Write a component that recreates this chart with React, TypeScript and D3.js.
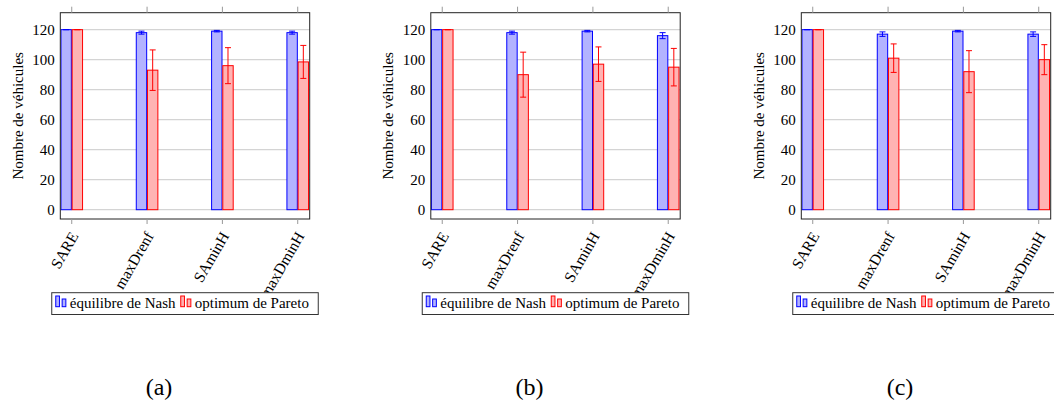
import React from "react";
import * as d3 from "d3";

const categories = ["SARE", "maxDrenf", "SAminH", "maxDminH"];
const yTicks = [0, 20, 40, 60, 80, 100, 120];

const nashA = [120, 118, 119, 118];
const nashErrA = [0, 1, 0.5, 1];
const paretoA = [120, 93, 96, 98.5];
const paretoErrA = [0, 13.5, 12, 11];

const nashB = [120, 118, 119, 116];
const nashErrB = [0, 1, 0.5, 2];
const paretoB = [120, 90, 97, 95];
const paretoErrB = [0, 15, 11.5, 12.5];

const nashC = [120, 117, 119, 117];
const nashErrC = [0, 1.5, 0.5, 1.5];
const paretoC = [120, 101, 92, 100];
const paretoErrC = [0, 9.5, 14, 10];

const captions = ["(a)", "(b)", "(c)"];
const legendLabels = ["équilibre de Nash", "optimum de Pareto"];

const panels = [
  { nash: nashA, nashErr: nashErrA, pareto: paretoA, paretoErr: paretoErrA },
  { nash: nashB, nashErr: nashErrB, pareto: paretoB, paretoErr: paretoErrB },
  { nash: nashC, nashErr: nashErrC, pareto: paretoC, paretoErr: paretoErrC },
];

const FONT = "'Liberation Serif', 'Times New Roman', Times, serif";
const BLUE = "#0000ff";
const BLUE_FILL = "#b3b3ff";
const RED = "#ff0000";
const RED_FILL = "#ffb3b3";

const PANEL_STEP = 370.5;
const FRAME_LEFT = 60.3;
const FRAME_W = 249.4;
const TOP = 12.7;
const BOTTOM = 219;
const BAR_W = 10.4;

function Panel({ idx }: { idx: number }) {
  const p = panels[idx];
  const left = FRAME_LEFT + idx * PANEL_STEP;
  const right = left + FRAME_W;
  const x = d3.scaleLinear().domain([-0.152, 3.159]).range([left, right]);
  const y = d3.scaleLinear().domain([-6.2, 131.3]).range([BOTTOM, TOP]);
  const clipId = `clip${idx}`;
  const series = [
    { vals: p.nash, errs: p.nashErr, stroke: BLUE, fill: BLUE_FILL, off: -0.4 - BAR_W },
    { vals: p.pareto, errs: p.paretoErr, stroke: RED, fill: RED_FILL, off: 0.4 },
  ];
  const cx = (left + right) / 2;
  const legW = 266.5;
  const legX = cx - legW / 2;
  const legY = 292.7;
  const legH = 21.8;
  return (
    <g>
      <defs>
        <clipPath id={clipId}>
          <rect x={left} y={TOP} width={FRAME_W} height={BOTTOM - TOP} />
        </clipPath>
      </defs>
      {yTicks.map((t) => (
        <line key={t} x1={left} x2={right} y1={y(t)} y2={y(t)} stroke="#d4d4d4" strokeWidth={1.2} />
      ))}
      <g clipPath={`url(#${clipId})`}>
        {series.map((s, si) =>
          s.vals.map((v, i) => {
            const bx = x(i) + s.off;
            const c = bx + BAR_W / 2;
            return (
              <g key={`${si}-${i}`}>
                <rect x={bx} y={y(v)} width={BAR_W} height={y(0) - y(v)} fill={s.fill} stroke={s.stroke} strokeWidth={1} />
                <line x1={c} x2={c} y1={y(v + s.errs[i])} y2={y(v - s.errs[i])} stroke={s.stroke} strokeWidth={1} />
                <line x1={c - 3} x2={c + 3} y1={y(v + s.errs[i])} y2={y(v + s.errs[i])} stroke={s.stroke} strokeWidth={1} />
                <line x1={c - 3} x2={c + 3} y1={y(v - s.errs[i])} y2={y(v - s.errs[i])} stroke={s.stroke} strokeWidth={1} />
              </g>
            );
          })
        )}
      </g>
      <rect x={left} y={TOP} width={FRAME_W} height={BOTTOM - TOP} fill="none" stroke="#222" strokeWidth={1} />
      {categories.map((c, i) => (
        <g key={c}>
          <line x1={x(i)} x2={x(i)} y1={TOP} y2={TOP - 6} stroke="#999" strokeWidth={1} />
          <line x1={x(i)} x2={x(i)} y1={BOTTOM} y2={BOTTOM + 5} stroke="#999" strokeWidth={1} />
          <text
            transform={`translate(${x(i) + 2.5},${BOTTOM + 14}) rotate(-60)`}
            textAnchor="end"
            dy="0.35em"
            fontFamily={FONT}
            fontSize={15.5}
            fill="#000"
          >
            {c}
          </text>
        </g>
      ))}
      {yTicks.map((t) => (
        <text key={t} x={left - 5.5} y={y(t)} dy="0.35em" textAnchor="end" fontFamily={FONT} fontSize={15} fill="#000">
          {t}
        </text>
      ))}
      <text
        transform={`translate(${left - 37.5},${(TOP + BOTTOM) / 2}) rotate(-90)`}
        textAnchor="middle"
        fontFamily={FONT}
        fontSize={15}
        fill="#000"
      >
        Nombre de véhicules
      </text>
      <rect x={legX} y={legY} width={legW} height={legH} fill="#fff" stroke="#333" strokeWidth={1} />
      {[
        { stroke: BLUE, fill: BLUE_FILL, ix: legX + 4, tx: legX + 18, label: legendLabels[0] },
        { stroke: RED, fill: RED_FILL, ix: legX + 129, tx: legX + 143, label: legendLabels[1] },
      ].map((l, k) => (
        <g key={k}>
          <rect x={l.ix} y={legY + 3.3} width={3.7} height={10.7} fill={l.fill} stroke={l.stroke} strokeWidth={1} />
          <rect x={l.ix + 6.4} y={legY + 6.3} width={3.7} height={7.7} fill={l.fill} stroke={l.stroke} strokeWidth={1} />
          <text x={l.tx} y={legY + 14.8} fontFamily={FONT} fontSize={15} fill="#000">
            {l.label}
          </text>
        </g>
      ))}
      <text x={159 + idx * PANEL_STEP} y={395} textAnchor="middle" fontFamily={FONT} fontSize={24} fill="#000">
        {captions[idx]}
      </text>
    </g>
  );
}

export default function App() {
  return (
    <svg width={1054} height={402} style={{ position: "absolute", left: 0, top: 0, background: "#fff" }}>
      <rect width={1054} height={402} fill="#fff" />
      {[0, 1, 2].map((i) => (
        <Panel key={i} idx={i} />
      ))}
    </svg>
  );
}
